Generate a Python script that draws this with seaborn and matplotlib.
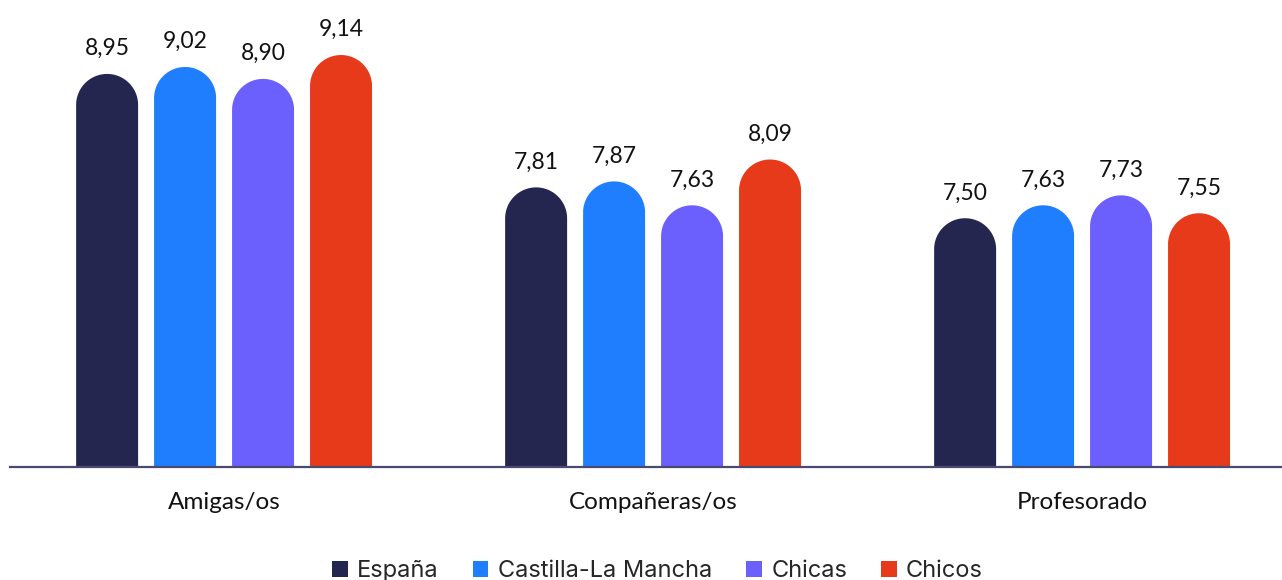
import numpy as np
import pandas as pd
import matplotlib.pyplot as plt
import seaborn as sns
from matplotlib.patches import Polygon, Patch

# Valoración media por grupo de referencia
categorias = ["Amigas/os", "Compañeras/os", "Profesorado"]
grupos = ["España", "Castilla-La Mancha", "Chicas", "Chicos"]
espana = [8.95, 7.81, 7.50]
clm = [9.02, 7.87, 7.63]
chicas = [8.90, 7.63, 7.73]
chicos = [9.14, 8.09, 7.55]
colores = ["#25264F", "#1F7EFE", "#6B5FFE", "#E63A1A"]

valores = [espana, clm, chicas, chicos]
df = pd.DataFrame({
    "Categoria": categorias * len(grupos),
    "Grupo": [g for g in grupos for _ in categorias],
    "Valor": [v for serie in valores for v in serie],
})

sns.set_style("white")
plt.rcParams['font.family'] = ['Lato', 'DejaVu Sans']

fig = plt.figure(figsize=(12.82, 5.8), dpi=100)
ax = fig.add_axes([10 / 1282, 113 / 580, 1272 / 1282, 467 / 580])

sns.barplot(data=df, x="Categoria", y="Valor", hue="Grupo", order=categorias,
            hue_order=grupos, palette=colores, width=0.727, gap=0.205,
            legend=False, ax=ax)

ax.set_ylim(5.0, 9.693)
ax.set_xlim(-0.499, 2.466)

# Convert the flat-topped bars into bars with rounded caps
fig.canvas.draw()
p0 = ax.transData.transform((0, 0))
p1 = ax.transData.transform((1, 1))
px_x = p1[0] - p0[0]
px_y = p1[1] - p0[1]
for i, cont in enumerate(ax.containers):
    for j, bar in enumerate(cont.patches):
        x0, w, h = bar.get_x(), bar.get_width(), bar.get_height()
        rx = w / 2
        ry = rx * px_x / px_y
        t = np.linspace(np.pi, 0, 60)
        xs = x0 + rx + rx * np.cos(t)
        ys = h - ry + ry * np.sin(t)
        pts = [(x0, 0)] + list(zip(xs, ys)) + [(x0 + w, 0)]
        bar.set_visible(False)
        ax.add_patch(Polygon(pts, closed=True, facecolor=colores[i],
                             edgecolor="none", zorder=2))
        ax.annotate(f"{valores[i][j]:.2f}".replace(".", ","),
                    (x0 + rx, h), xytext=(0, 13.5), textcoords="offset points",
                    ha="center", va="baseline", fontsize=16.5, color="#111111")

for s in ["top", "right", "left"]:
    ax.spines[s].set_visible(False)
ax.spines["bottom"].set_color("#4a4a70")
ax.spines["bottom"].set_linewidth(1.6)
ax.set_yticks([])
ax.set_xlabel("")
ax.set_ylabel("")
ax.tick_params(axis="x", length=0, pad=18, labelsize=17.5, labelcolor="#111111")

handles = [Patch(facecolor=c, edgecolor="none") for c in colores]
fig.legend(handles, grupos, loc="lower center", bbox_to_anchor=(0.513, -0.04),
           ncol=4, frameon=False, handlelength=0.65, handleheight=0.65,
           handletextpad=0.4, columnspacing=1.45,
           prop={"family": ["Inter", "DejaVu Sans"], "size": 17})

fig.savefig("out.png", dpi=100)
